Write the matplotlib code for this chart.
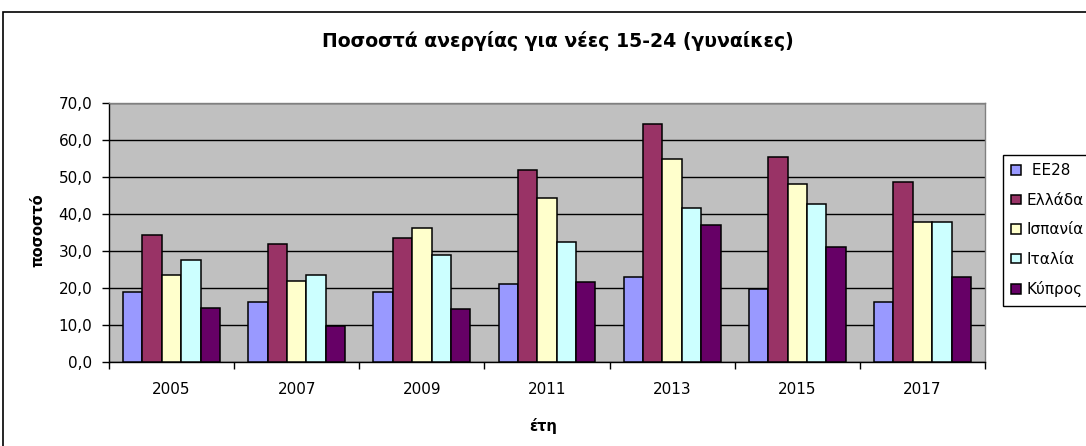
import matplotlib
matplotlib.use("Agg")
import matplotlib.pyplot as plt
from matplotlib.patches import Rectangle
import numpy as np

plt.rcParams['font.family'] = ['DejaVu Sans']

years = ["2005", "2007", "2009", "2011", "2013", "2015", "2017"]
series_names = [" EE28", "Ελλάδα", "Ισπανία", "Ιταλία", "Κύπρος"]
ee28 = [18.9, 16.2, 18.9, 21.2, 23.1, 19.6, 16.2]
ellada = [34.2, 32.0, 33.5, 51.9, 64.3, 55.4, 48.6]
ispania = [23.6, 22.0, 36.2, 44.3, 55.0, 48.2, 37.8]
italia = [27.7, 23.6, 28.9, 32.3, 41.5, 42.7, 37.8]
kypros = [14.6, 9.7, 14.3, 21.6, 36.9, 31.2, 23.1]
colors = ["#9999FF", "#993366", "#FFFFCC", "#CCFFFF", "#660066"]
yticks = [0, 10, 20, 30, 40, 50, 60, 70]

W, H = 1086, 446
fig = plt.figure(figsize=(W / 100, H / 100), dpi=100)
fig.patch.set_facecolor("white")

# chart area border
fig.patches.append(Rectangle((3 / W, -0.1), 1.2, 1 - 12 / H + 0.1, transform=fig.transFigure,
                             fill=False, edgecolor="black", linewidth=1.2, clip_on=False))

ax = fig.add_axes([109 / W, 1 - 362 / H, (985 - 109) / W, (362 - 103) / H])
ax.set_facecolor("#C0C0C0")

x = np.arange(len(years))
bw = 0.155
data = [ee28, ellada, ispania, italia, kypros]
for k, (vals, c, name) in enumerate(zip(data, colors, series_names)):
    ax.bar(x + (k - 2) * bw, vals, width=bw, color=c, edgecolor="black",
           linewidth=1.1, label=name, zorder=3)

ax.set_xlim(-0.5, len(years) - 0.5)
ax.set_ylim(0, 70)
ax.set_yticks(yticks)
ax.set_yticklabels([f"{v:.1f}".replace(".", ",") for v in yticks], fontsize=11)
ax.yaxis.grid(True, color="black", linewidth=1.0, zorder=1)
ax.set_axisbelow(True)

ax.set_xticks(x)
ax.set_xticklabels(years, fontsize=11)
ax.set_xticks(np.arange(-0.5, len(years)), minor=True)
ax.tick_params(axis="x", which="major", length=0, pad=14.5)
ax.tick_params(axis="x", which="minor", length=5, width=1, color="black", direction="out")
ax.tick_params(axis="y", length=5, width=1, color="black", direction="out", pad=7)

for s in ["top", "right"]:
    ax.spines[s].set_color("#808080")
    ax.spines[s].set_linewidth(1.0)
for s in ["left", "bottom"]:
    ax.spines[s].set_color("black")
    ax.spines[s].set_linewidth(1.0)

fig.text(38 / W, 1 - 230 / H, "ποσοστό", rotation=90, ha="center", va="center",
         fontsize=10.5, fontweight="bold")
fig.text(543 / W, 1 - 426 / H, "έτη", ha="center", va="center",
         fontsize=10.5, fontweight="bold")

fig.text(558 / W, 1 - 46.7 / H, "Ποσοστά ανεργίας για νέες 15-24 (γυναίκες)",
         ha="center", va="baseline", fontsize=13.6, fontweight="bold")

leg = ax.legend(loc="upper left", bbox_to_anchor=(1003 / W, 1 - 155 / H),
                bbox_transform=fig.transFigure, borderaxespad=0, frameon=True,
                fancybox=False, edgecolor="black", framealpha=1, fontsize=11,
                handlelength=0.6, handleheight=0.6, handletextpad=0.4,
                labelspacing=0.95, borderpad=0.55)
leg.get_frame().set_linewidth(1.0)

fig.savefig("out.png", dpi=100)
